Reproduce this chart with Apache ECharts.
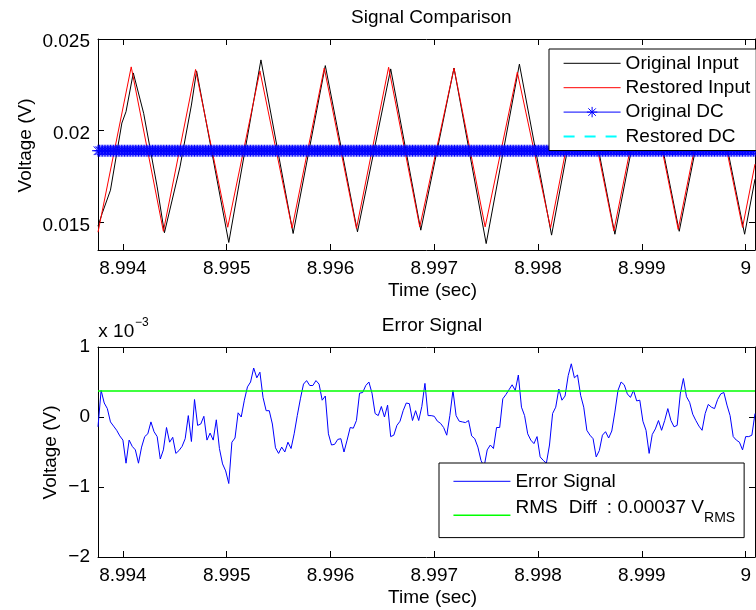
<!DOCTYPE html>
<html>
<head>
<meta charset="utf-8">
<script src="https://cdn.jsdelivr.net/npm/echarts@6/dist/echarts.min.js"></script>
<style>
  html, body { margin: 0; padding: 0; background: #fff; }
  #chart { width: 756px; height: 610px; }
</style>
</head>
<body>
<div id="chart"></div>
<script>
// ---- axis ranges and ticks ----
const timeRange = [8.99376, 9.00009];
const timeTicks = [8.994, 8.995, 8.996, 8.997, 8.998, 8.999, 9];
const timeTickLabels = ['8.994', '8.995', '8.996', '8.997', '8.998', '8.999', '9'];

const inputRange = [0.0135, 0.025];
const inputTicks = [0.015, 0.02, 0.025];
const inputTickLabels = ['0.015', '0.02', '0.025'];

const errorRange = [-0.002, 0.001];
const errorTicks = [-0.002, -0.001, 0, 0.001];
const errorTickLabels = ['\u22122', '\u22121', '0', '1'];

// ---- input waveforms (time in s, voltage in V) ----
const originalInputTime = [8.99376, 8.99380, 8.99388, 8.99399, 8.99403, 8.99410, 8.99420, 8.99433, 8.99440,
  8.99455, 8.99466, 8.99471, 8.99502, 8.99533, 8.99564, 8.99595, 8.99626, 8.99658, 8.99687, 8.99719,
  8.99750, 8.99782, 8.99813, 8.99843, 8.99874, 8.99905, 8.99936, 8.99967, 8.99999, 9.00009];
const originalInputVolts = [0.01480, 0.01549, 0.01676, 0.02042, 0.02104, 0.02315, 0.02095, 0.01694, 0.01444,
  0.01803, 0.02140, 0.02326, 0.01391, 0.02386, 0.01440, 0.02355, 0.01449, 0.02337, 0.01458, 0.02342,
  0.01385, 0.02363, 0.01431, 0.02342, 0.01436, 0.02331, 0.01452, 0.02337, 0.01436, 0.01736];

const restoredInputTime = [8.99376, 8.99408, 8.99439, 8.99470, 8.99501, 8.99532, 8.99563, 8.99594, 8.99625,
  8.99656, 8.99686, 8.99719, 8.99749, 8.99780, 8.99812, 8.99842, 8.99873, 8.99904, 8.99935, 8.99966,
  8.99997, 9.00009];
const restoredInputVolts = [0.01447, 0.02348, 0.01452, 0.02334, 0.01474, 0.02326, 0.01469, 0.02342, 0.01467,
  0.02346, 0.01476, 0.02341, 0.01476, 0.02319, 0.01470, 0.02331, 0.01454, 0.02331, 0.01462, 0.02331,
  0.01473, 0.01818];

// DC levels (V), logged at every input sample
const originalDC = 0.01891;
const restoredDC = 0.01890;
const dcSampleStep = 0.000015;

// ---- error signal, sampled every errorStep seconds (values in 10^-3 V) ----
const errorStart = 8.99376;
const errorStep = 0.00003;
const errorMillivolts = [
  -0.14, 0.38, 0.20, 0.12, -0.07, -0.13, -0.19, -0.27, -0.33, -0.66,
  -0.33, -0.42, -0.47, -0.66, -0.43, -0.28, -0.24, -0.07, -0.21, -0.28,
  -0.60, -0.47, -0.15, -0.36, -0.29, -0.52, -0.48, -0.42, -0.31, 0.02,
  -0.35, 0.25, -0.12, -0.10, 0.01, -0.33, -0.23, -0.33, -0.04, -0.45,
  -0.67, -0.77, -0.95, -0.36, -0.30, 0.06, 0.00, 0.24, 0.43, 0.50,
  0.70, 0.56, 0.64, 0.28, 0.09, 0.09, -0.10, -0.44, -0.52, -0.43,
  -0.50, -0.36, -0.45, -0.24, 0.02, 0.26, 0.47, 0.52, 0.45, 0.45,
  0.52, 0.47, 0.24, 0.30, -0.24, -0.40, -0.39, -0.32, -0.31, -0.50,
  -0.33, -0.15, -0.16, -0.05, 0.34, 0.35, 0.45, 0.50, 0.34, 0.05,
  0.02, 0.15, 0.00, 0.17, -0.28, -0.26, -0.12, -0.06, 0.09, 0.20,
  0.19, -0.05, 0.09, -0.05, 0.15, 0.48, 0.02, 0.02, 0.01, -0.06,
  -0.09, -0.15, -0.26, 0.02, 0.38, 0.02, -0.06, -0.07, -0.08, -0.05,
  -0.27, -0.31, -0.43, -0.62, -0.71, -0.47, -0.40, -0.45, -0.15, -0.15,
  0.26, 0.32, 0.39, 0.46, 0.38, 0.60, 0.14, 0.02, -0.24, -0.33,
  -0.38, -0.28, -0.57, -0.62, -0.66, -0.40, 0.05, 0.14, 0.40, 0.24,
  0.30, 0.59, 0.76, 0.56, 0.60, 0.31, 0.14, -0.19, -0.26, -0.31,
  -0.57, -0.48, -0.26, -0.21, -0.30, -0.20, 0.07, 0.38, 0.50, 0.46,
  0.33, 0.28, 0.38, 0.23, 0.24, -0.06, -0.19, -0.52, -0.25, -0.17,
  -0.05, -0.19, -0.05, 0.12, -0.05, -0.14, -0.12, 0.33, 0.55, 0.29,
  0.21, 0.04, -0.05, -0.13, -0.19, 0.05, 0.18, 0.14, 0.12, 0.25,
  0.33, 0.35, 0.17, 0.02, -0.28, -0.33, -0.36, -0.47, -0.28, -0.28,
  -0.26, 0.05
];
// RMS of the difference (V)
const rmsDiff = 0.00037;

// ---- derived series data ----
const zip = (xs, ys) => xs.map((x, i) => [x, ys[i]]);
const errorData = errorMillivolts.map((mv, i) => [errorStart + i * errorStep, mv / 1000]);
const dcTimes = [];
for (let t = timeRange[0]; t <= timeRange[1] + 1e-9; t += dcSampleStep) dcTimes.push(t);

const FONT = "'Liberation Sans', Arial, Helvetica, sans-serif";
const BLACK = '#000';
// MATLAB-style '*' marker: plus and cross strokes
const ASTERISK = 'path://M0,-1L0,1M-1,0L1,0M-0.72,-0.72L0.72,0.72M-0.72,0.72L0.72,-0.72';

function labelFor(values, labels) {
  return function (v) {
    let best = 0;
    for (let i = 1; i < values.length; i++) {
      if (Math.abs(values[i] - v) < Math.abs(values[best] - v)) best = i;
    }
    return labels[best];
  };
}

function timeAxis(gridIndex, position) {
  const bottom = position === 'bottom';
  return {
    type: 'value', gridIndex, position,
    min: timeRange[0], max: timeRange[1],
    axisLine: { show: true, onZero: false, lineStyle: { color: BLACK, width: 1 } },
    axisTick: { show: true, inside: true, length: 6, customValues: timeTicks, lineStyle: { color: BLACK } },
    axisLabel: {
      show: bottom, customValues: timeTicks, formatter: labelFor(timeTicks, timeTickLabels),
      margin: 9.5, color: BLACK, fontSize: 19, lineHeight: 19, fontFamily: FONT
    },
    splitLine: { show: false }
  };
}

function valueAxis(gridIndex, position, range, ticks, labels, labelShift) {
  const left = position === 'left';
  const label = {
    show: left, customValues: ticks, formatter: labelFor(ticks, labels),
    margin: 8, color: BLACK, fontSize: 19, lineHeight: 19, fontFamily: FONT
  };
  if (labelShift) {
    // labels sit a little below their ticks
    label.verticalAlign = 'top';
    label.lineHeight = labelShift;
  }
  return {
    type: 'value', gridIndex, position,
    min: range[0], max: range[1],
    axisLine: { show: true, onZero: false, lineStyle: { color: BLACK, width: 1 } },
    axisTick: { show: true, inside: true, length: 6, customValues: ticks, lineStyle: { color: BLACK } },
    axisLabel: label,
    splitLine: { show: false }
  };
}

function text(str, x, y, opts) {
  return Object.assign({
    type: 'text', x, y, silent: true,
    style: Object.assign({
      text: str, fill: BLACK, fontSize: 19, fontFamily: FONT,
      align: 'center', verticalAlign: 'middle'
    }, (opts && opts.style) || {})
  }, (opts && opts.el) || {});
}

// legend entries for plain lines carry no marker
const plain = name => ({ name, itemStyle: { opacity: 0 } });

const legendBase = {
  orient: 'vertical',
  itemWidth: 57,
  itemHeight: 13,
  backgroundColor: '#fff',
  borderColor: BLACK,
  borderWidth: 1,
  borderRadius: 0,
  selectedMode: false,
  lineStyle: { width: 'inherit' },
  itemStyle: { borderWidth: 1 },
  textStyle: { color: BLACK, fontSize: 19, lineHeight: 19, fontFamily: FONT }
};

const option = {
  animation: false,
  backgroundColor: '#fff',
  grid: [
    { left: 98, top: 39, width: 657, height: 211 },
    { left: 98, top: 347, width: 657, height: 210 }
  ],
  xAxis: [
    timeAxis(0, 'bottom'), timeAxis(0, 'top'),
    timeAxis(1, 'bottom'), timeAxis(1, 'top')
  ],
  yAxis: [
    valueAxis(0, 'left', inputRange, inputTicks, inputTickLabels, 6),
    valueAxis(0, 'right', inputRange, inputTicks, inputTickLabels, 6),
    valueAxis(1, 'left', errorRange, errorTicks, errorTickLabels, 0),
    valueAxis(1, 'right', errorRange, errorTicks, errorTickLabels, 0)
  ],
  legend: [
    Object.assign({}, legendBase, {
      data: [plain('Original Input'), plain('Restored Input'), { name: 'Original DC' }, plain('Restored DC')],
      left: 549, top: 49,
      padding: [4.8, 6, 4.5, 13.7],
      itemGap: 5.4
    }),
    Object.assign({}, legendBase, {
      data: [plain('Error Signal'), plain('RMS Diff')],
      left: 439, top: 463,
      padding: [8.8, 9, 4.8, 13.7],
      itemGap: 7,
      formatter: function (name) {
        if (name === 'RMS Diff') {
          return '{t|RMS}{g1| }{t|Diff}{g2| }{t|: ' + rmsDiff.toFixed(5) + ' V}{sub|RMS}';
        }
        return '{t|' + name + '}';
      },
      textStyle: {
        color: BLACK, fontSize: 19, lineHeight: 19, fontFamily: FONT,
        rich: {
          t: { fontSize: 19, lineHeight: 19, fontFamily: FONT, color: BLACK, verticalAlign: 'top' },
          g1: { width: 11, fontSize: 19, lineHeight: 19, fontFamily: FONT, verticalAlign: 'top' },
          g2: { width: 10, fontSize: 19, lineHeight: 19, fontFamily: FONT, verticalAlign: 'top' },
          sub: { fontSize: 14, lineHeight: 35, fontFamily: FONT, color: BLACK, verticalAlign: 'top', padding: [13, 0, 8, 0] }
        }
      }
    })
  ],
  series: [
    {
      name: 'Original Input', type: 'line', xAxisIndex: 0, yAxisIndex: 0,
      data: zip(originalInputTime, originalInputVolts),
      symbol: 'none', lineStyle: { color: '#000000', width: 1 }, itemStyle: { color: '#000000' },
      emphasis: { disabled: true }
    },
    {
      name: 'Restored Input', type: 'line', xAxisIndex: 0, yAxisIndex: 0,
      data: zip(restoredInputTime, restoredInputVolts),
      symbol: 'none', lineStyle: { color: '#ff0000', width: 1 }, itemStyle: { color: '#ff0000' },
      emphasis: { disabled: true }
    },
    {
      name: 'Original DC', type: 'line', xAxisIndex: 0, yAxisIndex: 0,
      data: dcTimes.map(t => [t, originalDC]),
      symbol: ASTERISK, symbolSize: 12, showSymbol: true,
      lineStyle: { color: '#0000ff', width: 1 },
      itemStyle: { color: '#0000ff', borderColor: '#0000ff', borderWidth: 1 },
      emphasis: { disabled: true }
    },
    {
      name: 'Restored DC', type: 'line', xAxisIndex: 0, yAxisIndex: 0,
      data: dcTimes.map(t => [t, restoredDC]),
      symbol: 'none', lineStyle: { color: '#00ffff', width: 1.8, type: [11, 10] }, itemStyle: { color: '#00ffff' },
      emphasis: { disabled: true }
    },
    {
      name: 'Error Signal', type: 'line', xAxisIndex: 2, yAxisIndex: 2,
      data: errorData,
      symbol: 'none', lineStyle: { color: '#0000ff', width: 1 }, itemStyle: { color: '#0000ff' },
      emphasis: { disabled: true }
    },
    {
      name: 'RMS Diff', type: 'line', xAxisIndex: 2, yAxisIndex: 2,
      data: [[timeRange[0], rmsDiff], [timeRange[1], rmsDiff]],
      symbol: 'none', lineStyle: { color: '#00ff00', width: 1.5 }, itemStyle: { color: '#00ff00' },
      emphasis: { disabled: true }
    }
  ],
  graphic: [
    text('Signal Comparison', 431.3, 18.1),
    text('Time (sec)', 432.6, 291),
    text('Voltage (V)', 0, 0, { el: { x: 26, y: 145.5, rotation: Math.PI / 2 } }),
    text('Error Signal', 432, 325.6),
    text('Time (sec)', 432.6, 597.4),
    text('Voltage (V)', 0, 0, { el: { x: 51, y: 452.5, rotation: Math.PI / 2 } }),
    text('x 10', 98.3, 331.8, { style: { align: 'left' } }),
    text('\u22123', 135, 323, { style: { align: 'left', fontSize: 12 } })
  ]
};

const chart = echarts.init(document.getElementById('chart'), null, { renderer: 'canvas' });
chart.setOption(option);
</script>
</body>
</html>
